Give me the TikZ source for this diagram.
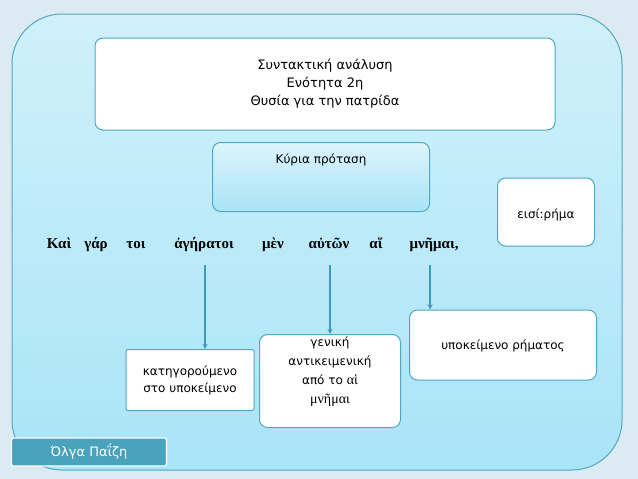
\documentclass[tikz,border=0pt]{standalone}
\usepackage{fontspec}
\setmainfont{DejaVu Sans}
\newfontfamily\grserif{Liberation Serif}
\usetikzlibrary{positioning}
\definecolor{bgcol}{HTML}{DCEBF1}
\definecolor{panelcol}{HTML}{A9E4F7}
\definecolor{edgecol}{HTML}{4FA8C2}
\definecolor{arrowcol}{HTML}{3E9BB8}
\definecolor{footcol}{HTML}{4AA3BC}
\tikzset{
  whitebox/.style={draw=edgecol, fill=white, rounded corners=8pt, line width=1pt, align=center, font=\fontsize{12}{17}\selectfont},
  word/.style={font=\grserif\bfseries\fontsize{15}{17}\selectfont, anchor=base},
  pointer/.style={draw=arrowcol, line width=1.3pt, -stealth}
}
\begin{document}
\begin{tikzpicture}[x=1pt,y=-1pt]
\fill[bgcol] (0,0) rectangle (638,479);
\useasboundingbox (0,0) rectangle (638,479);
\shade[top color=panelcol!55!white, bottom color=panelcol, draw=edgecol, line width=1pt, rounded corners=50pt] (12,14) rectangle (622,470);
% title and main clause
\node[whitebox, minimum width=460pt, minimum height=92pt, font=\fontsize{13}{18}\selectfont] (title) at (325,84) {Συντακτική ανάλυση\\Ενότητα 2η\\Θυσία για την πατρίδα};
\node[draw=edgecol, top color=white!60!panelcol, bottom color=panelcol, rounded corners=8pt, line width=1pt, minimum width=217pt, minimum height=69pt] (main) at (321,177) {};
\node[font=\fontsize{12}{14}\selectfont] at (321,160) {Κύρια πρόταση};
\node[whitebox, minimum width=97pt, minimum height=68pt] (verb) at (546,212) {};
\node[font=\fontsize{12}{14}\selectfont] at (546,215) {εισί:ρήμα};
% sentence
\node[word] (w1) at (59,248) {Καὶ};
\node[word] (w2) at (96,248) {γάρ};
\node[word] (w3) at (136,248) {τοι};
\node[word] (w4) at (204,248) {ἀγήρατοι};
\node[word] (w5) at (273,248) {μὲν};
\node[word] (w6) at (329,248) {αὐτῶν};
\node[word] (w7) at (376,248) {αἵ};
\node[word] (w8) at (434,248) {μνῆμαι,};
% analysis boxes
\node[whitebox, rounded corners=2pt, minimum width=128pt, minimum height=61pt] (pred) at (190,380) {κατηγορούμενο\\στο υποκείμενο};
\node[whitebox, minimum width=141pt, minimum height=93pt] (gen) at (330,381) {};
\node[align=center, font=\fontsize{12}{19}\selectfont] at (330,372) {γενική\\αντικειμενική\\από το {\grserif\fontsize{14}{19}\selectfont αἱ}\\{\grserif\fontsize{14}{19}\selectfont μνῆμαι}};
\node[whitebox, minimum width=187pt, minimum height=70pt] (subj) at (503,345) {};
\node[font=\fontsize{12}{14}\selectfont] at (503,346) {υποκείμενο ρήματος};
\coordinate (a1) at (205,265);
\coordinate (a2) at (330,265);
\coordinate (a3) at (430,265);
\draw[pointer] (a1) -- (a1 |- pred.north);
\draw[pointer] (a2) -- (a2 |- gen.north);
\draw[pointer] (a3) -- (a3 |- subj.north);
% footer
\node[fill=footcol, draw=white, line width=1.2pt, rounded corners=2pt, minimum width=155pt, minimum height=28pt, text=white, font=\fontsize{13}{15}\selectfont] (author) at (89,452) {Όλγα Παΐζη};
\end{tikzpicture}
\end{document}
